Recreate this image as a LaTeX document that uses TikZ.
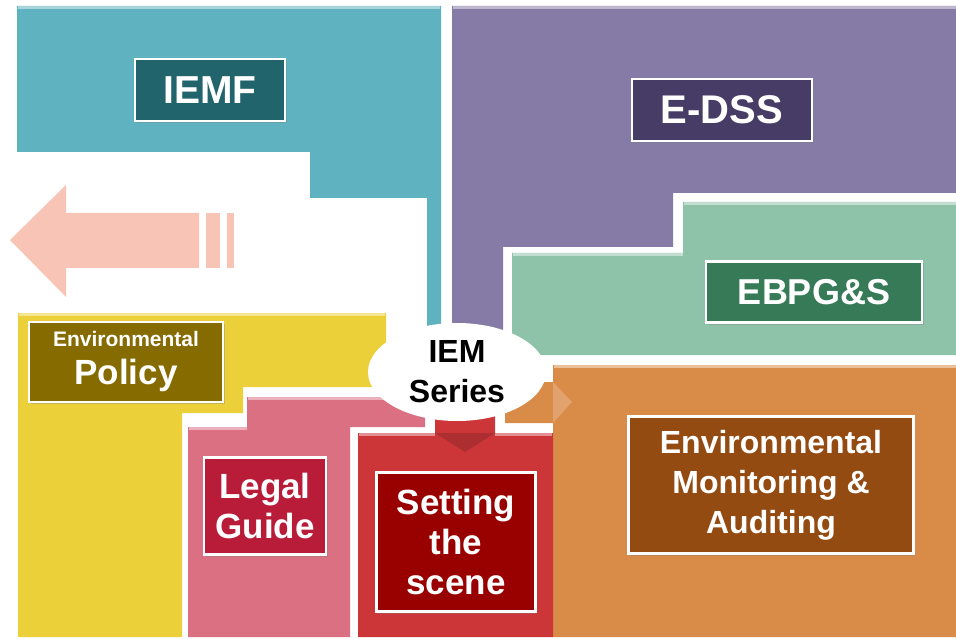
\documentclass[tikz,border=0pt]{standalone}
\usepackage{fontspec}
\setmainfont{Liberation Sans}
\usetikzlibrary{shapes.geometric,shadows}

\definecolor{iemfpanel}{HTML}{5FB3C0}
\definecolor{edsspanel}{HTML}{857BA6}
\definecolor{ebpgpanel}{HTML}{8EC3A9}
\definecolor{emapanel}{HTML}{D98B48}
\definecolor{policypanel}{HTML}{EBD03A}
\definecolor{legalpanel}{HTML}{DB7083}
\definecolor{scenepanel}{HTML}{CC3638}
\definecolor{arrowpink}{HTML}{F7C4B6}
\definecolor{iemftag}{HTML}{21646C}
\definecolor{edsstag}{HTML}{463C66}
\definecolor{ebpgtag}{HTML}{367A58}
\definecolor{policytag}{HTML}{856B00}
\definecolor{legaltag}{HTML}{B81C38}
\definecolor{scenetag}{HTML}{990000}
\definecolor{ematag}{HTML}{944B12}

\tikzset{
  tag/.style={draw=white, line width=2.5pt, text=white, font=\bfseries,
    align=center, inner sep=0pt,
    drop shadow={opacity=0.35, shadow xshift=1.5pt, shadow yshift=-2pt}},
  panel/.style={fill=#1},
  rim/.style={draw=#1!55!white, line width=2.5pt},
}

\begin{document}
\begin{tikzpicture}[x=1pt, y=-1pt]
    \useasboundingbox (0,0) rectangle (956,639);

    \fill[arrowpink] (10,240) -- (66,185) -- (66,213) -- (199,213) -- (199,268) -- (66,268) -- (66,297) -- cycle;
    \fill[arrowpink] (206,213) rectangle (220,268);
    \fill[arrowpink] (227,213) rectangle (234,268);

    \fill[panel=iemfpanel] (17,6) -- (441,6) -- (441,340) -- (427,340) -- (427,198) -- (310,198) -- (310,152) -- (17,152) -- cycle;
    \draw[rim=iemfpanel] (18,7.5) -- (440,7.5);
    \fill[panel=edsspanel] (452,6) -- (956,6) -- (956,193) -- (673,193) -- (673,247) -- (503,247) -- (503,340) -- (452,340) -- cycle;
    \draw[rim=edsspanel] (453,7.5) -- (956,7.5);
    \fill[panel=ebpgpanel] (512,253) -- (683,253) -- (683,202) -- (956,202) -- (956,355) -- (512,355) -- cycle;
    \draw[rim=ebpgpanel] (513,254.5) -- (683,254.5) (684,203.5) -- (956,203.5);
    \fill[panel=emapanel] (553,365) -- (956,365) -- (956,637) -- (553,637) -- (553,423) -- (505,423) -- (505,382) -- (553,382) -- cycle;
    \draw[rim=emapanel] (554,366.5) -- (956,366.5);
    \fill[emapanel!80!white] (553,382) -- (572,402) -- (553,423) -- cycle;
    \fill[panel=policypanel] (18,313) -- (386,313) -- (386,387) -- (243,387) -- (243,413) -- (182,413) -- (182,637) -- (18,637) -- cycle;
    \draw[rim=policypanel] (19,314.5) -- (385,314.5);
    \fill[panel=legalpanel] (188,427) -- (247,427) -- (247,397) -- (425,397) -- (425,427) -- (350,427) -- (350,637) -- (188,637) -- cycle;
    \draw[rim=legalpanel] (189,428.5) -- (247,428.5) (248,398.5) -- (424,398.5);
    \fill[panel=scenepanel] (358,433) -- (435,433) -- (435,410) -- (495,410) -- (495,433) -- (553,433) -- (553,637) -- (358,637) -- cycle;
    \draw[rim=scenepanel] (359,434.5) -- (435,434.5) (495,434.5) -- (552,434.5);
    \fill[scenepanel!85!black] (435,433) -- (495,433) -- (465,452) -- cycle;

    \node[tag, fill=iemftag, minimum width=150pt, minimum height=62pt, font=\bfseries\fontsize{39}{42}\selectfont] (iemf) at (210,90) {IEMF};
    \node[tag, fill=edsstag, minimum width=180pt, minimum height=62pt, font=\bfseries\fontsize{40}{43}\selectfont] (edss) at (722,110) {E-DSS};
    \node[tag, fill=ebpgtag, minimum width=216pt, minimum height=61pt, font=\bfseries\fontsize{36}{39}\selectfont] (ebpg) at (814,292) {EBPG\&S};
    \node[tag, fill=policytag, minimum width=194pt, minimum height=80pt, font=\bfseries\fontsize{35}{38}\selectfont] (policy) at (126,362)
        {{\fontsize{21}{24}\selectfont Environmental}\\Policy};
    \node[tag, fill=legaltag, minimum width=122pt, minimum height=97pt, font=\bfseries\fontsize{35}{40}\selectfont] (legal) at (265,506) {Legal\\Guide};
    \node[tag, fill=scenetag, minimum width=159pt, minimum height=139pt, font=\bfseries\fontsize{35}{40}\selectfont] (scene) at (456,542) {Setting\\the\\scene};
    \node[tag, fill=ematag, minimum width=285pt, minimum height=137pt, font=\bfseries\fontsize{32}{40}\selectfont] (ema) at (771,485) {Environmental\\Monitoring \&\\Auditing};

    \node[ellipse, fill=white, minimum width=178pt, minimum height=98pt, inner sep=0pt, align=center, font=\bfseries\fontsize{32}{40}\selectfont] (iem) at (457,372) {IEM\\Series};
\end{tikzpicture}
\end{document}
